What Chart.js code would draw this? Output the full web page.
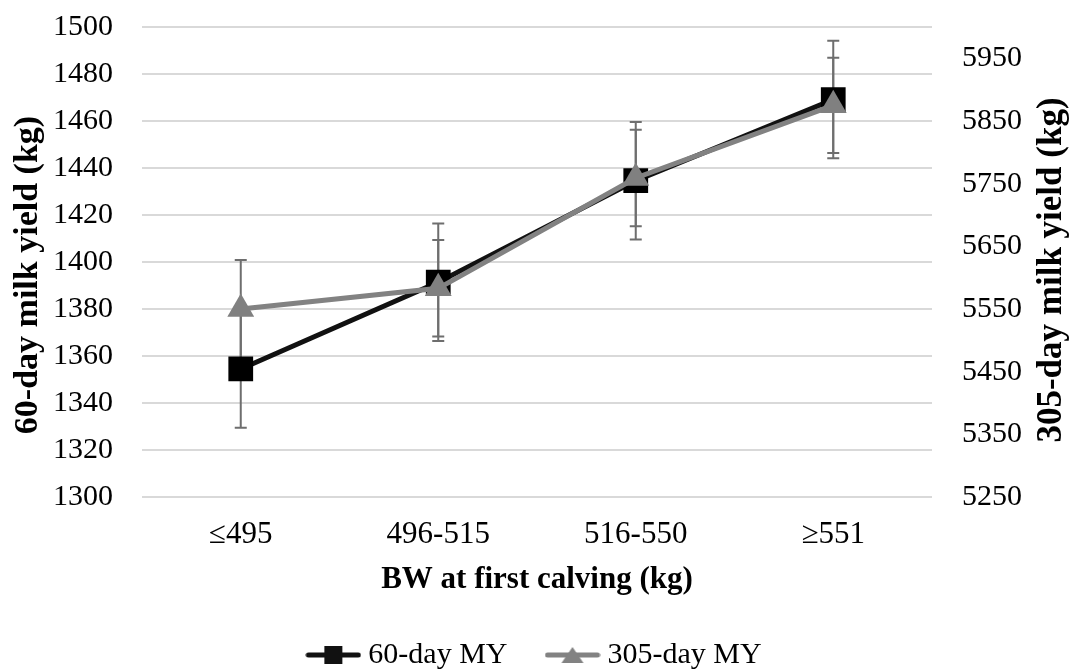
<!DOCTYPE html>
<html>
<head>
<meta charset="utf-8">
<script src="https://cdn.jsdelivr.net/npm/chart.js@4/dist/chart.umd.min.js"></script>
<style>
  html, body { margin: 0; padding: 0; background: #fff; }
  #wrap { width: 1072px; height: 670px; }
</style>
</head>
<body>
<div id="wrap"><canvas id="chart" width="1072" height="670"></canvas></div>
<script>
// values
const categories = ['≤495', '496-515', '516-550', '≥551'];
const my60 = [1354.5, 1391.4, 1434.6, 1469.1];
const my60Err = [25, 25, 25, 25];
const my305 = [5550, 5583, 5759, 5875];
const my305Err = [78, 77, 77, 76];
const rightTicks = [5250, 5350, 5450, 5550, 5650, 5750, 5850, 5950];

const leftTitle = '60-day milk yield (kg)';
const rightTitle = '305-day milk yield (kg)';

const errs = [my60Err, my305Err];

function legendIcon(color, shape) {
    const c = document.createElement('canvas');
    c.width = 56;
    c.height = 24;
    const g = c.getContext('2d');
    g.strokeStyle = color;
    g.fillStyle = color;
    g.lineWidth = 5;
    g.lineCap = 'round';
    g.beginPath();
    g.moveTo(3, 12);
    g.lineTo(53, 12);
    g.stroke();
    if (shape === 'rect') {
        g.fillRect(19, 3, 18, 18);
    } else {
        g.beginPath();
        g.moveTo(28, 4);
        g.lineTo(39, 20);
        g.lineTo(17, 20);
        g.closePath();
        g.fill();
    }
    return c;
}

const errorBars = {
    id: 'errorBars',
    beforeDatasetsDraw(chart) {
        const ctx = chart.ctx;
        chart.data.datasets.forEach((ds, i) => {
            const meta = chart.getDatasetMeta(i);
            const ys = chart.scales[ds.yAxisID];
            ctx.save();
            ctx.strokeStyle = '#6e6e6e';
            ctx.lineWidth = 2;
            meta.data.forEach((pt, j) => {
                const top = ys.getPixelForValue(ds.data[j] + errs[i][j]);
                const bot = ys.getPixelForValue(ds.data[j] - errs[i][j]);
                ctx.beginPath();
                ctx.moveTo(pt.x, top);
                ctx.lineTo(pt.x, bot);
                ctx.moveTo(pt.x - 6, top);
                ctx.lineTo(pt.x + 6, top);
                ctx.moveTo(pt.x - 6, bot);
                ctx.lineTo(pt.x + 6, bot);
                ctx.stroke();
            });
            ctx.restore();
        });
    }
};

// both axis titles read bottom to top, so draw them here
const axisTitles = {
    id: 'axisTitles',
    afterDraw(chart) {
        const ctx = chart.ctx;
        ctx.save();
        ctx.fillStyle = '#000';
        ctx.textAlign = 'center';
        ctx.textBaseline = 'middle';
        ctx.font = 'bold 34px "Liberation Serif"';
        ctx.translate(28, 275);
        ctx.rotate(-Math.PI / 2);
        ctx.fillText(leftTitle, 0, 0);
        ctx.restore();

        ctx.save();
        ctx.fillStyle = '#000';
        ctx.textAlign = 'center';
        ctx.textBaseline = 'middle';
        ctx.font = 'bold 35px "Liberation Serif"';
        ctx.translate(1052, 270);
        ctx.rotate(-Math.PI / 2);
        ctx.fillText(rightTitle, 0, 0);
        ctx.restore();
    }
};

Chart.defaults.font.family = '"Liberation Serif", "Times New Roman", serif';
Chart.defaults.color = '#000';

new Chart(document.getElementById('chart'), {
    type: 'line',
    data: {
        labels: categories,
        datasets: [{
            label: '60-day MY',
            data: my60,
            yAxisID: 'y',
            borderColor: '#111',
            backgroundColor: '#000',
            borderWidth: 5,
            pointStyle: 'rect',
            pointRadius: 17.5,
            pointBorderWidth: 0,
            order: 1
        }, {
            label: '305-day MY',
            data: my305,
            yAxisID: 'y2',
            borderColor: '#828282',
            backgroundColor: '#808080',
            borderWidth: 5,
            pointStyle: 'triangle',
            pointRadius: 15.5,
            pointBorderWidth: 0,
            order: 0
        }]
    },
    options: {
        responsive: false,
        animation: false,
        layout: { padding: { top: 27, left: 53, right: 50, bottom: -10 } },
        plugins: {
            tooltip: { enabled: false },
            legend: {
                position: 'bottom',
                labels: {
                    usePointStyle: true,
                    pointStyleWidth: 40,
                    padding: 45,
                    font: { size: 30 },
                    generateLabels: () => [
                        { text: '60-day MY', pointStyle: legendIcon('#111', 'rect'), datasetIndex: 0, hidden: false, lineWidth: 0 },
                        { text: '305-day MY', pointStyle: legendIcon('#828282', 'triangle'), datasetIndex: 1, hidden: false, lineWidth: 0 }
                    ]
                }
            }
        },
        scales: {
            x: {
                offset: true,
                grid: { display: false, drawTicks: false },
                border: { display: false },
                ticks: { font: { size: 31 }, padding: 19 },
                title: {
                    display: true,
                    text: 'BW at first calving (kg)',
                    font: { size: 31, weight: 'bold', lineHeight: 1 },
                    padding: { top: 0, bottom: 0 }
                },
                afterFit(scale) { scale.height = 98; }
            },
            y: {
                position: 'left',
                min: 1300,
                max: 1500,
                ticks: { stepSize: 20, font: { size: 30 }, padding: 0, crossAlign: 'far', callback: v => String(v) },
                grid: { color: '#d9d9d9', lineWidth: 2, drawTicks: false },
                border: { display: false },
                afterFit(scale) { scale.width = 89; }
            },
            y2: {
                position: 'right',
                min: 5250,
                max: 6000,
                ticks: { font: { size: 30 }, padding: 0, crossAlign: 'far', callback: v => String(v) },
                grid: { display: false, drawTicks: false },
                border: { display: false },
                afterBuildTicks(scale) { scale.ticks = rightTicks.map(v => ({ value: v })); },
                afterFit(scale) { scale.width = 90; }
            }
        }
    },
    plugins: [errorBars, axisTitles]
});
</script>
</body>
</html>
